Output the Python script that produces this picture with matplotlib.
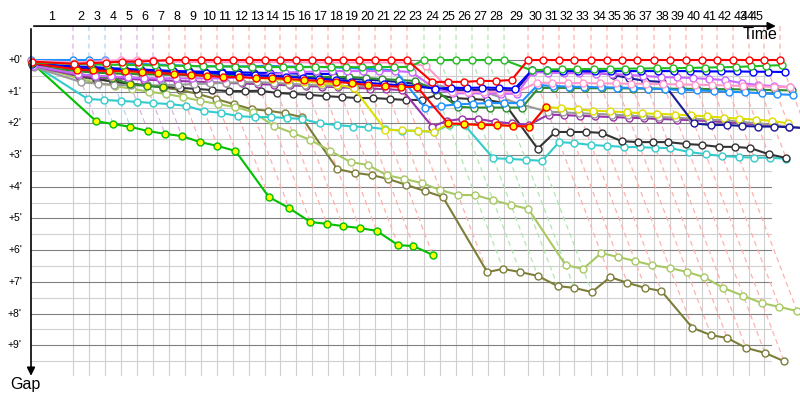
#Gap chart
import matplotlib.pyplot as plt

#leader crossing time at end of each lap (minutes), lap 0 = start
lap_times = [0.00, 3.50, 4.83, 6.17, 7.50, 8.83, 10.17, 11.50, 12.83, 14.17, 15.50,
             16.83, 18.17, 19.50, 20.75, 22.08, 23.42, 24.75, 26.00, 27.33, 28.67,
             30.00, 31.33, 32.75, 34.08, 35.42, 36.75, 38.08, 39.42, 41.42, 42.67,
             44.00, 45.25, 46.67, 48.00, 49.25, 50.50, 51.92, 53.25, 54.58, 55.92,
             57.17, 58.50, 59.83, 61.08, 62.42]

#who led each lap (colour of the lap line)
lap_leader = ['R', 'H', 'H', 'R', 'R', 'R', 'A', 'A', 'A', 'A', 'A', 'A', 'A', 'A', 'A',
              'A', 'A', 'A', 'A', 'A', 'A', 'A', 'C', 'C', 'C', 'C', 'C', 'C', 'A', 'A',
              'A', 'A', 'A', 'A', 'A', 'A', 'A', 'A', 'A', 'A', 'A', 'A', 'A', 'A', 'A']

#gap to leader (minutes) per lap, index 0 = start
gap_A = [0.05, 0.12, 0.10, 0.08, 0.05, 0.05, 0.03, 0, 0, 0, 0, 0, 0, 0, 0, 0, 0, 0, 0, 0, 0,
         0, 0, 0.69, 0.69, 0.69, 0.66, 0.66, 0.63, 0, 0, 0, 0, 0, 0, 0, 0, 0, 0, 0, 0, 0, 0,
         0, 0, 0]
gap_B = [0.10, 0.30, 0.33, 0.35, 0.35, 0.38, 0.41, 0.44, 0.47, 0.50, 0.54, 0.54, 0.57, 0.57,
         0.60, 0.63, 0.66, 0.69, 0.73, 0.79, 0.82, 0.85, 0.85, 2.00, 2.02, 2.05, 2.05, 2.08,
         2.10, 1.48]
gap_C = [0.08, 0.12, 0.14, 0.15, 0.15, 0.16, 0.17, 0.18, 0.19, 0.20, 0.20, 0.21, 0.21, 0.22,
         0.22, 0.23, 0.22, 0.22, 0.22, 0.23, 0.22, 0.22, 0.22, 0, 0, 0, 0, 0, 0, 0.33, 0.30,
         0.29, 0.29, 0.28, 0.28, 0.27, 0.27, 0.26, 0.26, 0.25, 0.24, 0.23, 0.22, 0.20, 0.18,
         0.16]
gap_M = [0.10, 1.93, 2.02, 2.11, 2.24, 2.33, 2.40, 2.59, 2.71, 2.87, 4.32, 4.67, 5.11, 5.17,
         5.24, 5.30, 5.39, 5.84, 5.87, 6.15]
gap_F = [0.12, 0.20, 0.22, 0.25, 0.28, 0.30, 0.32, 0.35, 0.37, 0.40, 0.42, 0.45, 0.48, 0.50,
         0.53, 0.56, 0.60, 0.64, 0.68, 0.72, 0.76, 0.80, 0.84, 0.90, 0.88, 0.88, 0.87, 0.88,
         0.90, 0.32, 0.33, 0.34, 0.35, 0.35, 0.35, 0.35, 0.35, 0.35, 0.35, 0.35, 0.36, 0.36,
         0.36, 0.37, 0.37, 0.38]
gap_E = [0.10, 0.25, 0.28, 0.30, 0.32, 0.33, 0.34, 0.35, 0.36, 0.37, 0.38, 0.39, 0.40, 0.41,
         0.42, 0.43, 0.44, 0.44]
gap_G = [0.14, 0.25, 0.28, 0.30, 0.32, 0.34, 0.36, 0.38, 0.40, 0.42, 0.44, 0.46, 0.48, 0.50,
         0.52, 0.54, 0.56, 0.58, 0.60, 0.62, 0.65, 0.70, 0.75, 0.92, 0.95, 0.95, 0.94, 0.95,
         0.96, 0.35, 0.36, 0.37, 0.38, 0.40, 0.47, 0.57, 0.66, 0.69, 2.00, 2.05, 2.05, 2.08,
         2.10, 2.10, 2.12, 2.15]
gap_H = [0.00, 0, 0, 0, 0.10, 0.12, 0.14, 0.16, 0.18, 0.20, 0.20, 0.20, 0.20, 0.18, 0.20,
         0.21, 0.22, 0.23, 0.25, 0.27, 0.30, 0.32, 1.50, 1.45, 1.40, 1.38, 1.36, 1.36, 1.36,
         0.79, 0.82, 0.84, 0.85, 0.86, 0.87, 0.88, 0.90, 0.92, 0.95, 0.96, 0.98, 1.00, 1.02,
         1.05, 1.08, 1.10]
gap_I = [0.12, 1.23, 1.26, 1.29, 1.32, 1.36, 1.39, 1.45, 1.61, 1.67, 1.77, 1.80, 1.80, 1.83,
         1.86, 2.00, 2.05, 2.10, 2.12, 2.18, 2.23, 2.23, 2.27, 2.05, 2.05, 3.10, 3.12, 3.15,
         3.18, 2.59, 2.62, 2.68, 2.71, 2.74, 2.75, 2.77, 2.78, 2.90, 2.97, 3.03, 3.06, 3.08,
         3.08, 3.12]
gap_J = [0.15, 0.50, 0.60, 0.68, 0.75, 0.80, 0.85, 0.88, 0.91, 0.95, 0.98, 0.98, 0.97, 1.04,
         1.07, 1.10, 1.14, 1.17, 1.20, 1.20, 1.23, 1.26, 1.26, 1.10, 1.20, 1.23, 1.26, 1.36,
         2.80, 2.27, 2.27, 2.27, 2.30, 2.56, 2.59, 2.59, 2.59, 2.65, 2.68, 2.74, 2.74, 2.78,
         2.97, 3.09]
gap_K = [0.20, 0.55, 0.60, 0.68, 0.75, 0.80, 0.87, 0.95, 1.07, 1.23, 1.39, 1.55, 1.60, 1.68,
         1.80, 3.44, 3.56, 3.63, 3.75, 3.94, 4.13, 4.32, 6.69, 6.59, 6.69, 6.81, 7.13, 7.19,
         7.32, 6.85, 7.03, 7.19, 7.29, 8.45, 8.68, 8.77, 9.08, 9.24, 9.50]
gap_L = [0.15, 0.60, 0.73, 0.82, 0.91, 1.00, 1.07, 1.17, 1.29, 1.39, 1.48, 1.64, 2.08, 2.30,
         2.52, 2.87, 3.22, 3.31, 3.63, 3.75, 3.88, 4.10, 4.26, 4.26, 4.42, 4.57, 4.70, 6.47,
         6.59, 6.09, 6.21, 6.34, 6.47, 6.56, 6.69, 6.85, 7.19, 7.44, 7.67, 7.79, 7.92]
gap_N = [0.15, 0.30, 0.33, 0.35, 0.38, 0.40, 0.42, 0.44, 0.46, 0.48, 0.50, 0.53, 0.56, 0.60,
         0.64, 0.68, 0.72, 0.78, 0.88, 2.20, 2.22, 2.24, 2.26, 2.02, 2.03, 2.05, 2.06, 2.08,
         2.10, 1.48, 1.52, 1.56, 1.60, 1.62, 1.65, 1.68, 1.70, 1.72, 1.75, 1.78, 1.82, 1.85,
         1.88, 1.92, 2.00]
gap_O = [0.20, 0.50, 0.55, 0.58, 0.60, 0.62, 0.64, 0.66, 0.68, 0.70, 0.72, 0.74, 0.76, 0.78,
         0.80, 0.82, 0.84, 0.86, 0.88, 0.90, 0.92, 0.95, 2.10, 1.92, 1.86, 1.86, 1.95, 2.00,
         2.05, 1.72, 1.74, 1.76, 1.78, 1.80, 1.82, 1.84, 1.86, 1.88, 1.90, 1.93, 1.96, 2.00,
         2.03, 2.06, 2.12]
gap_P = [0.18, 0.45, 0.50, 0.52, 0.55, 0.57, 0.58, 0.58, 0.58, 0.58, 0.58, 0.55, 0.50, 0.45,
         0.40, 0.38, 0.36, 0.35, 0.35, 0.35, 0.35, 0.35, 0.38, 0.90, 1.05, 1.05, 1.06, 1.06,
         1.07, 0.38, 0.40, 0.41, 0.42, 0.43, 0.44, 0.47, 0.50, 0.54, 0.55, 0.57, 0.60, 0.63,
         0.73, 0.79, 0.82, 0.85]
gap_Q = [0.22, 0.70, 0.75, 0.78, 0.80, 0.80, 0.80, 0.78, 0.76, 0.74, 0.72, 0.70, 0.70, 0.72,
         0.75, 0.78, 0.80, 0.82, 0.82, 0.82, 0.82, 0.80, 0.80, 0.80, 0.85, 0.90, 1.00, 1.20,
         1.40, 1.63, 1.65, 1.68, 1.70, 1.72, 1.75, 1.78, 1.80, 1.82, 1.85, 1.88, 1.90, 1.95,
         2.00, 2.05, 2.10, 2.15]
gap_R = [0.02, 0.08, 0.06, 0.03, 0, 0, 0, 0.05, 0.06, 0.06, 0.07, 0.07, 0.07, 0.07, 0.07,
         0.07, 0.08, 0.08, 0.08, 0.08, 0.08, 0.08, 0.08, 0.20, 1.00, 1.02, 1.00, 1.00, 1.02,
         0.72, 0.72, 0.73, 0.73, 0.74, 0.74, 0.75, 0.75, 0.76, 0.77, 0.78, 0.79, 0.80, 0.82,
         0.83, 0.85, 0.86]
gap_S = [0.20, 0.35, 0.40, 0.42, 0.44, 0.45, 0.46, 0.47, 0.48, 0.49, 0.50, 0.50, 0.51, 0.52,
         0.52, 0.53, 0.53, 0.54, 0.54, 0.57, 0.60, 0.63, 0.66, 0.95, 1.48, 1.50, 1.50, 1.50,
         1.50, 0.88, 0.88, 0.88, 0.89, 0.89, 0.89, 0.90, 0.90, 0.90, 0.91, 0.91, 0.92, 0.92,
         0.93, 0.94, 0.95, 0.96]
gap_T = [0.16, 0.45, 0.50, 0.57, 0.76, 0.82, 0.85]

# name, gaps, line colour, marker fill (drawn bottom to top)
drivers = [
    ('K', gap_K, '#7d7d3a', 'white'),
    ('L', gap_L, '#a8c864', 'white'),
    ('M', gap_M, '#00c000', '#ffff00'),
    ('I', gap_I, '#33cccc', 'white'),
    ('J', gap_J, '#333333', 'white'),
    ('O', gap_O, '#9933aa', 'white'),
    ('Q', gap_Q, '#999999', 'white'),
    ('N', gap_N, '#dddd00', 'white'),
    ('T', gap_T, '#2e8b2e', '#ffff00'),
    ('E', gap_E, '#0000ff', '#ffff00'),
    ('G', gap_G, '#1a1a99', 'white'),
    ('S', gap_S, '#2e8b2e', 'white'),
    ('H', gap_H, '#1e90ff', 'white'),
    ('P', gap_P, '#cc66ff', 'white'),
    ('R', gap_R, '#ff99cc', 'white'),
    ('F', gap_F, '#0000ff', 'white'),
    ('B', gap_B, '#ff0000', '#ffff00'),
    ('C', gap_C, '#22bb22', 'white'),
    ('A', gap_A, '#ff0000', 'white'),
]
lap_line_colors = {'A': '#ffb0b0', 'C': '#b0e6b0', 'H': '#b0d4f0', 'R': '#dcb0e4'}

fig = plt.figure(figsize=(8, 4), dpi=100)
ax = fig.add_axes([0, 0, 1, 1])
ax.set_xlim(-31 / 12, 769 / 12)
ax.set_ylim(340 / 31.7, -60 / 31.7)
ax.axis('off')

top = -1.07
bottom = 9.94
grid_end = 61.67

#grid
for m in range(10):
    ax.plot([0, grid_end], [m + 0.5, m + 0.5], color='#d0d0d0', lw=0.8, zorder=1)
for t in lap_times[1:-1]:
    ax.plot([t, t], [0, bottom], color='#d0d0d0', lw=0.8, zorder=1)
for m in range(10):
    ax.plot([0, grid_end], [m, m], color='#808080', lw=0.8, zorder=1)
    ax.text(-0.75, m, "+%d'" % m, ha='right', va='center', fontsize=7.5,
            family='Liberation Sans')

#lap lines: vertical above the leader, then down through the last car
for k in range(1, len(lap_times)):
    gaps_k = [d[1][k] for d in drivers if len(d[1]) > k]
    gmax = max(gaps_k)
    c = lap_line_colors[lap_leader[k - 1]]
    ax.plot([lap_times[k], lap_times[k], lap_times[k] + gmax], [top, 0, gmax],
            color=c, lw=0.9, ls=(0, (4, 3)), zorder=2)

#drivers
for name, gaps, col, fill in drivers:
    xs = [lap_times[k] + g for k, g in enumerate(gaps)]
    ax.plot(xs, gaps, '-o', color=col, lw=1.5, ms=5, mfc=fill, mec=col, mew=1.0,
            zorder=3, clip_on=False)

#axes with arrows
ax.annotate('', xy=(62.3, top), xytext=(0, top),
            arrowprops=dict(arrowstyle='-|>', color='black', lw=1.2, mutation_scale=12))
ax.annotate('', xy=(0, 10.05), xytext=(0, top),
            arrowprops=dict(arrowstyle='-|>', color='black', lw=1.2, mutation_scale=12))

#lap numbers (the last two sit close together, as in the original)
label_x = [(lap_times[k - 1] + lap_times[k]) / 2 for k in range(1, 44)] + [59.75, 60.5]
for k, lx in enumerate(label_x, start=1):
    ax.text(lx, -1.35, str(k), ha='center', va='center', fontsize=9,
            family='Liberation Sans')

ax.text(60.75, -0.79, 'Time', ha='center', va='center', fontsize=11.5,
        family='Liberation Sans')
ax.text(-0.5, 10.25, 'Gap', ha='center', va='center', fontsize=11.5,
        family='Liberation Sans')

plt.savefig('out.png', dpi=100)
